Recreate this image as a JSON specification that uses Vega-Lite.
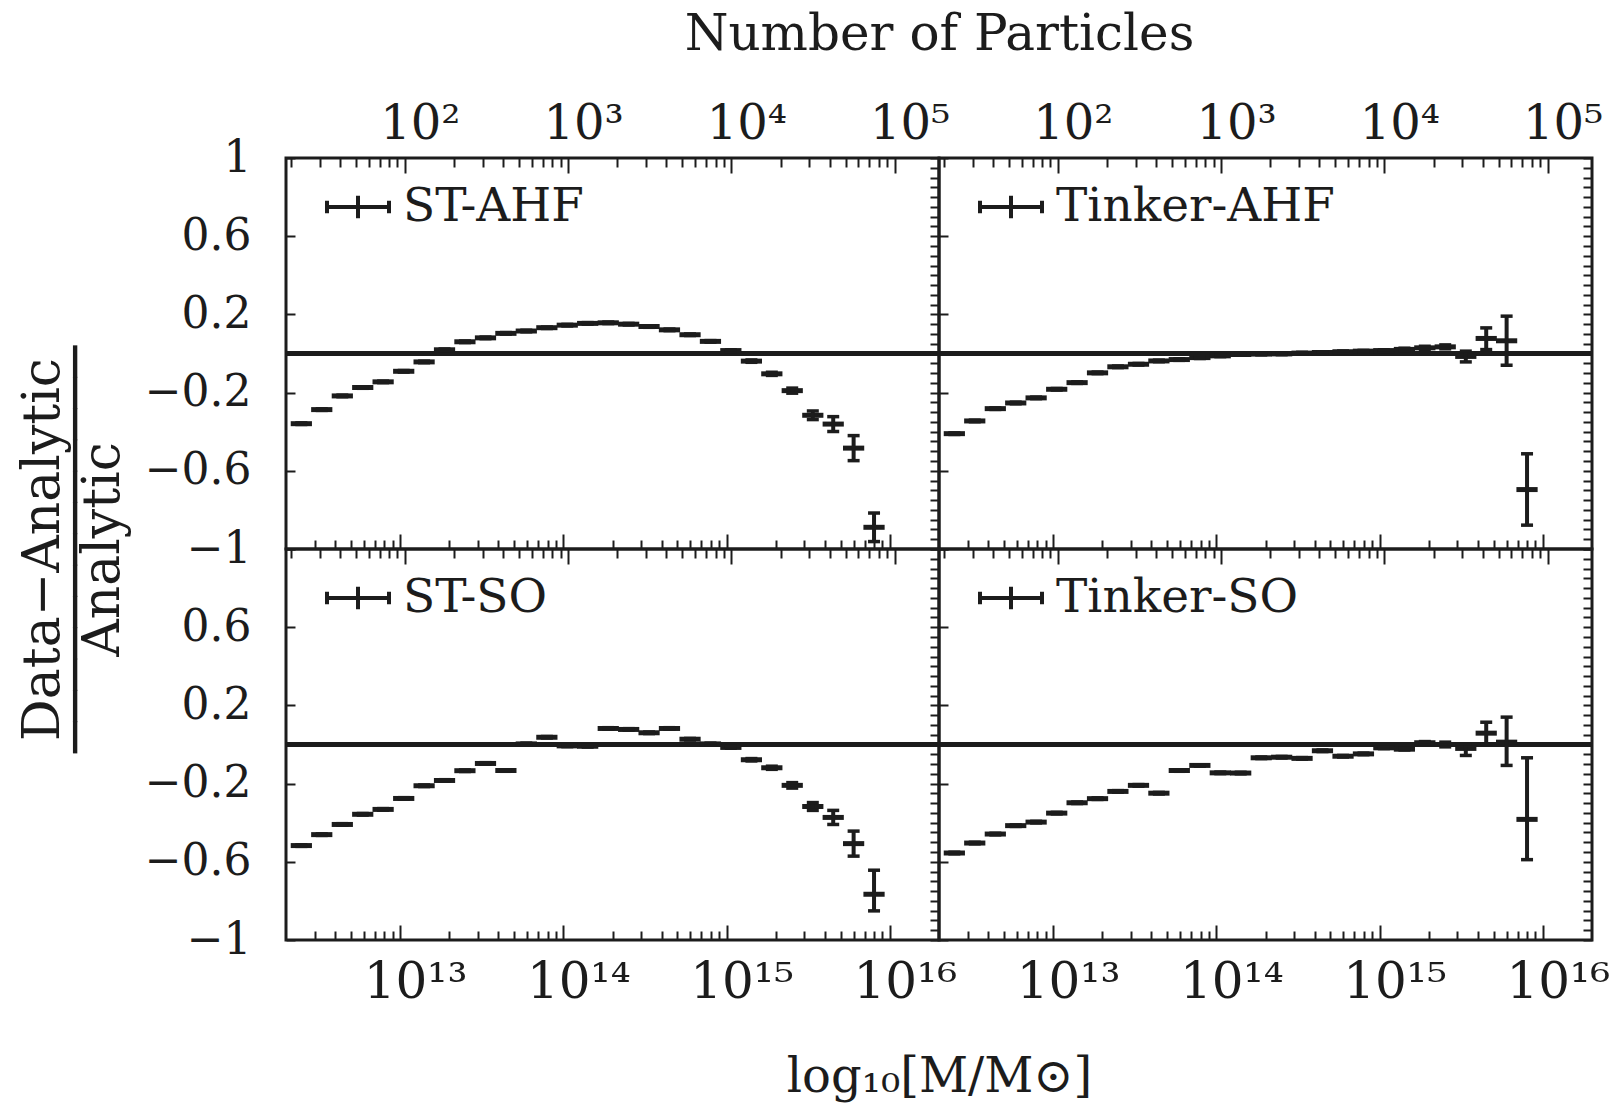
{
"$schema":"https://vega.github.io/schema/vega-lite/v6.json",
"background":"white",
"padding":{"left":14,"top":7,"right":10,"bottom":10},
"config":{
 "view":{"stroke":"#1c1c1c","strokeWidth":3},
 "font":"DejaVu Serif",
 "tick":{"opacity":1},
 "rule":{"opacity":1},
 "axis":{"domain":false,"grid":false,"tickColor":"#1c1c1c","tickWidth":2,"labelColor":"#1c1c1c","titleColor":"#1c1c1c","labelFont":"DejaVu Serif","titleFont":"DejaVu Serif","titleFontWeight":"normal","labelOverlap":false,"labelBound":false,"labelFlush":false},
 "legend":{"labelFont":"DejaVu Serif","labelColor":"#1c1c1c","labelLimit":500}
},
"datasets":{
"bins":[{"b":1,"m":2.483e12,"mlo":2.138e12,"mhi":2.884e12},{"b":2,"m":3.311e12,"mlo":2.851e12,"mhi":3.846e12},{"b":3,"m":4.426e12,"mlo":3.811e12,"mhi":5.14e12},{"b":4,"m":5.902e12,"mlo":5.082e12,"mhi":6.855e12},{"b":5,"m":7.87e12,"mlo":6.776e12,"mhi":9.141e12},{"b":6,"m":1.052e13,"mlo":9.057e12,"mhi":1.222e13},{"b":7,"m":1.403e13,"mlo":1.208e13,"mhi":1.629e13},{"b":8,"m":1.871e13,"mlo":1.611e13,"mhi":2.173e13},{"b":9,"m":2.495e13,"mlo":2.148e13,"mhi":2.897e13},{"b":10,"m":3.334e13,"mlo":2.871e13,"mhi":3.873e13},{"b":11,"m":4.446e13,"mlo":3.828e13,"mhi":5.164e13},{"b":12,"m":5.929e13,"mlo":5.105e13,"mhi":6.887e13},{"b":13,"m":7.925e13,"mlo":6.823e13,"mhi":9.204e13},{"b":14,"m":1.057e14,"mlo":9.099e13,"mhi":1.227e14},{"b":15,"m":1.409e14,"mlo":1.213e14,"mhi":1.637e14},{"b":16,"m":1.884e14,"mlo":1.622e14,"mhi":2.188e14},{"b":17,"m":2.512e14,"mlo":2.163e14,"mhi":2.917e14},{"b":18,"m":3.35e14,"mlo":2.884e14,"mhi":3.89e14},{"b":19,"m":4.467e14,"mlo":3.846e14,"mhi":5.188e14},{"b":20,"m":5.97e14,"mlo":5.14e14,"mhi":6.934e14},{"b":21,"m":7.962e14,"mlo":6.855e14,"mhi":9.247e14},{"b":22,"m":1.062e15,"mlo":9.141e14,"mhi":1.233e15},{"b":23,"m":1.419e15,"mlo":1.222e15,"mhi":1.648e15},{"b":24,"m":1.892e15,"mlo":1.629e15,"mhi":2.198e15},{"b":25,"m":2.523e15,"mlo":2.173e15,"mhi":2.931e15},{"b":26,"m":3.373e15,"mlo":2.904e15,"mhi":3.917e15},{"b":27,"m":4.498e15,"mlo":3.873e15,"mhi":5.224e15},{"b":28,"m":5.998e15,"mlo":5.164e15,"mhi":6.966e15},{"b":29,"m":8e15,"mlo":6.887e15,"mhi":9.29e15}],
"st_ahf":[{"b":1,"y":-0.359,"ylo":-0.363,"yhi":-0.355},{"b":2,"y":-0.287,"ylo":-0.291,"yhi":-0.283},{"b":3,"y":-0.217,"ylo":-0.221,"yhi":-0.213},{"b":4,"y":-0.174,"ylo":-0.178,"yhi":-0.17},{"b":5,"y":-0.145,"ylo":-0.149,"yhi":-0.141},{"b":6,"y":-0.091,"ylo":-0.095,"yhi":-0.087},{"b":7,"y":-0.043,"ylo":-0.047,"yhi":-0.039},{"b":8,"y":0.019,"ylo":0.015,"yhi":0.023},{"b":9,"y":0.06,"ylo":0.056,"yhi":0.064},{"b":10,"y":0.08,"ylo":0.076,"yhi":0.084},{"b":11,"y":0.103,"ylo":0.099,"yhi":0.107},{"b":12,"y":0.115,"ylo":0.111,"yhi":0.119},{"b":13,"y":0.132,"ylo":0.128,"yhi":0.136},{"b":14,"y":0.145,"ylo":0.141,"yhi":0.149},{"b":15,"y":0.154,"ylo":0.15,"yhi":0.158},{"b":16,"y":0.157,"ylo":0.153,"yhi":0.161},{"b":17,"y":0.15,"ylo":0.146,"yhi":0.154},{"b":18,"y":0.138,"ylo":0.134,"yhi":0.142},{"b":19,"y":0.121,"ylo":0.117,"yhi":0.125},{"b":20,"y":0.096,"ylo":0.092,"yhi":0.1},{"b":21,"y":0.062,"ylo":0.058,"yhi":0.066},{"b":22,"y":0.015,"ylo":0.011,"yhi":0.019},{"b":23,"y":-0.039,"ylo":-0.045,"yhi":-0.033},{"b":24,"y":-0.104,"ylo":-0.112,"yhi":-0.096},{"b":25,"y":-0.19,"ylo":-0.203,"yhi":-0.177},{"b":26,"y":-0.316,"ylo":-0.338,"yhi":-0.294},{"b":27,"y":-0.361,"ylo":-0.399,"yhi":-0.323},{"b":28,"y":-0.484,"ylo":-0.548,"yhi":-0.42},{"b":29,"y":-0.889,"ylo":-0.962,"yhi":-0.816}],
"tinker_ahf":[{"b":1,"y":-0.41,"ylo":-0.414,"yhi":-0.406},{"b":2,"y":-0.345,"ylo":-0.349,"yhi":-0.341},{"b":3,"y":-0.282,"ylo":-0.286,"yhi":-0.278},{"b":4,"y":-0.253,"ylo":-0.257,"yhi":-0.249},{"b":5,"y":-0.227,"ylo":-0.231,"yhi":-0.223},{"b":6,"y":-0.183,"ylo":-0.187,"yhi":-0.179},{"b":7,"y":-0.149,"ylo":-0.153,"yhi":-0.145},{"b":8,"y":-0.099,"ylo":-0.103,"yhi":-0.095},{"b":9,"y":-0.068,"ylo":-0.072,"yhi":-0.064},{"b":10,"y":-0.055,"ylo":-0.059,"yhi":-0.051},{"b":11,"y":-0.038,"ylo":-0.042,"yhi":-0.034},{"b":12,"y":-0.031,"ylo":-0.035,"yhi":-0.027},{"b":13,"y":-0.021,"ylo":-0.025,"yhi":-0.017},{"b":14,"y":-0.012,"ylo":-0.016,"yhi":-0.008},{"b":15,"y":-0.005,"ylo":-0.009,"yhi":-0.001},{"b":16,"y":-0.003,"ylo":-0.007,"yhi":0.001},{"b":17,"y":-0.002,"ylo":-0.006,"yhi":0.002},{"b":18,"y":0.002,"ylo":-0.002,"yhi":0.006},{"b":19,"y":0.005,"ylo":0.001,"yhi":0.009},{"b":20,"y":0.009,"ylo":0.005,"yhi":0.013},{"b":21,"y":0.012,"ylo":0.008,"yhi":0.016},{"b":22,"y":0.015,"ylo":0.011,"yhi":0.019},{"b":23,"y":0.021,"ylo":0.015,"yhi":0.027},{"b":24,"y":0.029,"ylo":0.021,"yhi":0.037},{"b":25,"y":0.034,"ylo":0.024,"yhi":0.044},{"b":26,"y":-0.015,"ylo":-0.043,"yhi":0.012},{"b":27,"y":0.077,"ylo":0.02,"yhi":0.131},{"b":28,"y":0.065,"ylo":-0.06,"yhi":0.191},{"b":29,"y":-0.696,"ylo":-0.878,"yhi":-0.513}],
"st_so":[{"b":1,"y":-0.517,"ylo":-0.521,"yhi":-0.513},{"b":2,"y":-0.461,"ylo":-0.465,"yhi":-0.457},{"b":3,"y":-0.409,"ylo":-0.413,"yhi":-0.405},{"b":4,"y":-0.357,"ylo":-0.361,"yhi":-0.353},{"b":5,"y":-0.332,"ylo":-0.336,"yhi":-0.328},{"b":6,"y":-0.276,"ylo":-0.28,"yhi":-0.272},{"b":7,"y":-0.211,"ylo":-0.215,"yhi":-0.207},{"b":8,"y":-0.184,"ylo":-0.188,"yhi":-0.18},{"b":9,"y":-0.134,"ylo":-0.138,"yhi":-0.13},{"b":10,"y":-0.097,"ylo":-0.101,"yhi":-0.093},{"b":11,"y":-0.133,"ylo":-0.137,"yhi":-0.129},{"b":12,"y":0.003,"ylo":-0.001,"yhi":0.007},{"b":13,"y":0.037,"ylo":0.033,"yhi":0.041},{"b":14,"y":-0.007,"ylo":-0.011,"yhi":-0.003},{"b":15,"y":-0.009,"ylo":-0.013,"yhi":-0.005},{"b":16,"y":0.082,"ylo":0.078,"yhi":0.086},{"b":17,"y":0.077,"ylo":0.073,"yhi":0.081},{"b":18,"y":0.06,"ylo":0.056,"yhi":0.064},{"b":19,"y":0.082,"ylo":0.078,"yhi":0.086},{"b":20,"y":0.027,"ylo":0.023,"yhi":0.031},{"b":21,"y":0.003,"ylo":-0.001,"yhi":0.007},{"b":22,"y":-0.015,"ylo":-0.019,"yhi":-0.011},{"b":23,"y":-0.078,"ylo":-0.084,"yhi":-0.072},{"b":24,"y":-0.119,"ylo":-0.127,"yhi":-0.111},{"b":25,"y":-0.209,"ylo":-0.223,"yhi":-0.195},{"b":26,"y":-0.317,"ylo":-0.337,"yhi":-0.297},{"b":27,"y":-0.373,"ylo":-0.409,"yhi":-0.337},{"b":28,"y":-0.507,"ylo":-0.571,"yhi":-0.443},{"b":29,"y":-0.766,"ylo":-0.851,"yhi":-0.643}],
"tinker_so":[{"b":1,"y":-0.555,"ylo":-0.559,"yhi":-0.551},{"b":2,"y":-0.504,"ylo":-0.508,"yhi":-0.5},{"b":3,"y":-0.458,"ylo":-0.462,"yhi":-0.454},{"b":4,"y":-0.415,"ylo":-0.419,"yhi":-0.411},{"b":5,"y":-0.397,"ylo":-0.401,"yhi":-0.393},{"b":6,"y":-0.351,"ylo":-0.355,"yhi":-0.347},{"b":7,"y":-0.298,"ylo":-0.302,"yhi":-0.294},{"b":8,"y":-0.277,"ylo":-0.281,"yhi":-0.273},{"b":9,"y":-0.24,"ylo":-0.244,"yhi":-0.236},{"b":10,"y":-0.209,"ylo":-0.213,"yhi":-0.205},{"b":11,"y":-0.249,"ylo":-0.253,"yhi":-0.245},{"b":12,"y":-0.133,"ylo":-0.137,"yhi":-0.129},{"b":13,"y":-0.107,"ylo":-0.111,"yhi":-0.103},{"b":14,"y":-0.145,"ylo":-0.149,"yhi":-0.141},{"b":15,"y":-0.146,"ylo":-0.15,"yhi":-0.142},{"b":16,"y":-0.068,"ylo":-0.072,"yhi":-0.064},{"b":17,"y":-0.065,"ylo":-0.069,"yhi":-0.061},{"b":18,"y":-0.071,"ylo":-0.075,"yhi":-0.067},{"b":19,"y":-0.032,"ylo":-0.036,"yhi":-0.028},{"b":20,"y":-0.06,"ylo":-0.064,"yhi":-0.056},{"b":21,"y":-0.048,"ylo":-0.052,"yhi":-0.044},{"b":22,"y":-0.017,"ylo":-0.021,"yhi":-0.013},{"b":23,"y":-0.024,"ylo":-0.028,"yhi":-0.02},{"b":24,"y":0.009,"ylo":0.003,"yhi":0.015},{"b":25,"y":0.0,"ylo":-0.012,"yhi":0.012},{"b":26,"y":-0.02,"ylo":-0.056,"yhi":0.003},{"b":27,"y":0.058,"ylo":0.003,"yhi":0.114},{"b":28,"y":0.012,"ylo":-0.107,"yhi":0.14},{"b":29,"y":-0.383,"ylo":-0.589,"yhi":-0.068}]
},
"concat":[
{
 "width":653,"height":391,
 "layer":[
  {
   "data":{"name":"st_ahf"},
   "transform":[{"lookup":"b","from":{"data":{"name":"bins"},"key":"b","fields":["m","mlo","mhi"]}}],
   "layer":[
    {"mark":{"type":"rule","color":"#1c1c1c","strokeWidth":3.5},"encoding":{"y":{"datum":0,"type":"quantitative","scale":{"domain":[-1,1],"nice":false,"zero":false}}}},
    {"mark":{"type":"rule","strokeWidth":5},"encoding":{
      "x":{"field":"mlo","type":"quantitative","scale":{"type":"log","domain":[2e12,2e16],"nice":false},"axis":{"orient":"bottom","values":[3e12,4e12,5e12,6e12,7e12,8e12,9e12,1e13,2e13,3e13,4e13,5e13,6e13,7e13,8e13,9e13,1e14,2e14,3e14,4e14,5e14,6e14,7e14,8e14,9e14,1e15,2e15,3e15,4e15,5e15,6e15,7e15,8e15,9e15,1e16],"labels":false,"title":null,"tickSize":{"condition":{"test":"datum.value==1e13||datum.value==1e14||datum.value==1e15||datum.value==1e16","value":-15},"value":-9}}},
      "x2":{"field":"mhi"},
      "y":{"field":"y","type":"quantitative","scale":{"domain":[-1,1],"nice":false,"zero":false},"axis":{"orient":"left","values":[-1,-0.95,-0.9,-0.85,-0.8,-0.75,-0.7,-0.65,-0.6,-0.55,-0.5,-0.45,-0.4,-0.35,-0.3,-0.25,-0.2,-0.15,-0.1,-0.05,0,0.05,0.1,0.15,0.2,0.25,0.3,0.35,0.4,0.45,0.5,0.55,0.6,0.65,0.7,0.75,0.8,0.85,0.9,0.95,1],"tickSize":-9,"labelFontSize":44,"labelPadding":44,"labelExpr":"indexof([1,0.6,0.2,-0.2,-0.6,-1],datum.value)>=0?format(datum.value,'~g'):''","title":["Data−Analytic","Analytic"],"titleFontSize":52,"titleLineHeight":60,"titleY":391,"titleAlign":"center","titlePadding":15}},
      "color":{"datum":"ST-AHF","type":"nominal","scale":{"range":["#1c1c1c"]},"legend":{"orient":"none","legendX":39,"legendY":16,"title":null,"padding":0,"labelFontSize":47,"labelOffset":12,"symbolType":"M-1,0L1,0M-1,-0.2L-1,0.2M1,-0.2L1,0.2M0,-0.36L0,0.36","symbolSize":3844,"symbolStrokeWidth":4,"symbolStrokeColor":"#1c1c1c","symbolFillColor":"transparent"}}}},
    {"mark":{"type":"rule","strokeWidth":4,"color":"#1c1c1c","opacity":1},"encoding":{"x":{"field":"m","type":"quantitative","scale":{"type":"log","domain":[2e12,2e16],"nice":false}},"y":{"field":"ylo","type":"quantitative","scale":{"domain":[-1,1],"nice":false,"zero":false}},"y2":{"field":"yhi"}}},
    {"mark":{"type":"tick","orient":"horizontal","size":12,"thickness":3.5,"color":"#1c1c1c","opacity":1},"encoding":{"x":{"field":"m","type":"quantitative","scale":{"type":"log","domain":[2e12,2e16],"nice":false}},"y":{"field":"ylo","type":"quantitative","scale":{"domain":[-1,1],"nice":false,"zero":false}}}},
    {"mark":{"type":"tick","orient":"horizontal","size":12,"thickness":3.5,"color":"#1c1c1c","opacity":1},"encoding":{"x":{"field":"m","type":"quantitative","scale":{"type":"log","domain":[2e12,2e16],"nice":false}},"y":{"field":"yhi","type":"quantitative","scale":{"domain":[-1,1],"nice":false,"zero":false}}}}
   ]
  },
  {
   "mark":{"type":"point","opacity":0},
   "encoding":{
    "x":{"datum":100,"type":"quantitative","scale":{"type":"log","domain":[18.69,186916],"nice":false},"axis":{"orient":"top","values":[20,30,40,50,60,70,80,90,100,200,300,400,500,600,700,800,900,1000,2000,3000,4000,5000,6000,7000,8000,9000,10000,20000,30000,40000,50000,60000,70000,80000,90000,100000],"tickSize":{"condition":{"test":"datum.value==100||datum.value==1000||datum.value==10000||datum.value==100000","value":-15},"value":-9},"labelExpr":"datum.value==100?'10²':datum.value==1000?'10³':datum.value==10000?'10⁴':datum.value==100000?'10⁵':''","labelFontSize":48,"labelPadding":25,"labelOffset":15,"title":"Number of Particles","titleFontSize":50,"titleX":653,"titleAlign":"center","titlePadding":35}},
    "y":{"datum":0,"type":"quantitative","scale":{"domain":[-1,1],"nice":false,"zero":false},"axis":{"orient":"right","values":[-1,-0.95,-0.9,-0.85,-0.8,-0.75,-0.7,-0.65,-0.6,-0.55,-0.5,-0.45,-0.4,-0.35,-0.3,-0.25,-0.2,-0.15,-0.1,-0.05,0,0.05,0.1,0.15,0.2,0.25,0.3,0.35,0.4,0.45,0.5,0.55,0.6,0.65,0.7,0.75,0.8,0.85,0.9,0.95,1],"tickSize":-9,"labels":false,"title":null}}
   }
  }
 ],
 "resolve":{"scale":{"x":"independent","y":"independent"},"axis":{"x":"independent","y":"independent"}}
},
{
 "width":653,"height":391,
 "layer":[
  {
   "data":{"name":"tinker_ahf"},
   "transform":[{"lookup":"b","from":{"data":{"name":"bins"},"key":"b","fields":["m","mlo","mhi"]}}],
   "layer":[
    {"mark":{"type":"rule","color":"#1c1c1c","strokeWidth":3.5},"encoding":{"y":{"datum":0,"type":"quantitative","scale":{"domain":[-1,1],"nice":false,"zero":false}}}},
    {"mark":{"type":"rule","strokeWidth":5},"encoding":{
      "x":{"field":"mlo","type":"quantitative","scale":{"type":"log","domain":[2e12,2e16],"nice":false},"axis":{"orient":"bottom","values":[3e12,4e12,5e12,6e12,7e12,8e12,9e12,1e13,2e13,3e13,4e13,5e13,6e13,7e13,8e13,9e13,1e14,2e14,3e14,4e14,5e14,6e14,7e14,8e14,9e14,1e15,2e15,3e15,4e15,5e15,6e15,7e15,8e15,9e15,1e16],"labels":false,"title":null,"tickSize":{"condition":{"test":"datum.value==1e13||datum.value==1e14||datum.value==1e15||datum.value==1e16","value":-15},"value":-9}}},
      "x2":{"field":"mhi"},
      "y":{"field":"y","type":"quantitative","scale":{"domain":[-1,1],"nice":false,"zero":false},"axis":{"orient":"left","values":[-1,-0.95,-0.9,-0.85,-0.8,-0.75,-0.7,-0.65,-0.6,-0.55,-0.5,-0.45,-0.4,-0.35,-0.3,-0.25,-0.2,-0.15,-0.1,-0.05,0,0.05,0.1,0.15,0.2,0.25,0.3,0.35,0.4,0.45,0.5,0.55,0.6,0.65,0.7,0.75,0.8,0.85,0.9,0.95,1],"tickSize":-9,"labels":false,"title":null}},
      "color":{"datum":"Tinker-AHF","type":"nominal","scale":{"range":["#1c1c1c"]},"legend":{"orient":"none","legendX":39,"legendY":16,"title":null,"padding":0,"labelFontSize":47,"labelOffset":12,"symbolType":"M-1,0L1,0M-1,-0.2L-1,0.2M1,-0.2L1,0.2M0,-0.36L0,0.36","symbolSize":3844,"symbolStrokeWidth":4,"symbolStrokeColor":"#1c1c1c","symbolFillColor":"transparent"}}}},
    {"mark":{"type":"rule","strokeWidth":4,"color":"#1c1c1c","opacity":1},"encoding":{"x":{"field":"m","type":"quantitative","scale":{"type":"log","domain":[2e12,2e16],"nice":false}},"y":{"field":"ylo","type":"quantitative","scale":{"domain":[-1,1],"nice":false,"zero":false}},"y2":{"field":"yhi"}}},
    {"mark":{"type":"tick","orient":"horizontal","size":12,"thickness":3.5,"color":"#1c1c1c","opacity":1},"encoding":{"x":{"field":"m","type":"quantitative","scale":{"type":"log","domain":[2e12,2e16],"nice":false}},"y":{"field":"ylo","type":"quantitative","scale":{"domain":[-1,1],"nice":false,"zero":false}}}},
    {"mark":{"type":"tick","orient":"horizontal","size":12,"thickness":3.5,"color":"#1c1c1c","opacity":1},"encoding":{"x":{"field":"m","type":"quantitative","scale":{"type":"log","domain":[2e12,2e16],"nice":false}},"y":{"field":"yhi","type":"quantitative","scale":{"domain":[-1,1],"nice":false,"zero":false}}}}
   ]
  },
  {
   "mark":{"type":"point","opacity":0},
   "encoding":{
    "x":{"datum":100,"type":"quantitative","scale":{"type":"log","domain":[18.69,186916],"nice":false},"axis":{"orient":"top","values":[20,30,40,50,60,70,80,90,100,200,300,400,500,600,700,800,900,1000,2000,3000,4000,5000,6000,7000,8000,9000,10000,20000,30000,40000,50000,60000,70000,80000,90000,100000],"tickSize":{"condition":{"test":"datum.value==100||datum.value==1000||datum.value==10000||datum.value==100000","value":-15},"value":-9},"labelExpr":"datum.value==100?'10²':datum.value==1000?'10³':datum.value==10000?'10⁴':datum.value==100000?'10⁵':''","labelFontSize":48,"labelPadding":25,"labelOffset":15,"title":null}},
    "y":{"datum":0,"type":"quantitative","scale":{"domain":[-1,1],"nice":false,"zero":false},"axis":{"orient":"right","values":[-1,-0.95,-0.9,-0.85,-0.8,-0.75,-0.7,-0.65,-0.6,-0.55,-0.5,-0.45,-0.4,-0.35,-0.3,-0.25,-0.2,-0.15,-0.1,-0.05,0,0.05,0.1,0.15,0.2,0.25,0.3,0.35,0.4,0.45,0.5,0.55,0.6,0.65,0.7,0.75,0.8,0.85,0.9,0.95,1],"tickSize":-9,"labels":false,"title":null}}
   }
  }
 ],
 "resolve":{"scale":{"x":"independent","y":"independent"},"axis":{"x":"independent","y":"independent"}}
},
{
 "width":653,"height":391,
 "layer":[
  {
   "data":{"name":"st_so"},
   "transform":[{"lookup":"b","from":{"data":{"name":"bins"},"key":"b","fields":["m","mlo","mhi"]}}],
   "layer":[
    {"mark":{"type":"rule","color":"#1c1c1c","strokeWidth":3.5},"encoding":{"y":{"datum":0,"type":"quantitative","scale":{"domain":[-1,1],"nice":false,"zero":false}}}},
    {"mark":{"type":"rule","strokeWidth":5},"encoding":{
      "x":{"field":"mlo","type":"quantitative","scale":{"type":"log","domain":[2e12,2e16],"nice":false},"axis":{"orient":"bottom","values":[3e12,4e12,5e12,6e12,7e12,8e12,9e12,1e13,2e13,3e13,4e13,5e13,6e13,7e13,8e13,9e13,1e14,2e14,3e14,4e14,5e14,6e14,7e14,8e14,9e14,1e15,2e15,3e15,4e15,5e15,6e15,7e15,8e15,9e15,1e16],"tickSize":{"condition":{"test":"datum.value==1e13||datum.value==1e14||datum.value==1e15||datum.value==1e16","value":-15},"value":-9},"labelExpr":"datum.value==1e13?'10¹³':datum.value==1e14?'10¹⁴':datum.value==1e15?'10¹⁵':datum.value==1e16?'10¹⁶':''","labelFontSize":50,"labelPadding":32,"labelOffset":15,"title":"log₁₀[M/M⊙]","titleFontSize":48,"titleX":653,"titleAlign":"center","titlePadding":40}},
      "x2":{"field":"mhi"},
      "y":{"field":"y","type":"quantitative","scale":{"domain":[-1,1],"nice":false,"zero":false},"axis":{"orient":"left","values":[-1,-0.95,-0.9,-0.85,-0.8,-0.75,-0.7,-0.65,-0.6,-0.55,-0.5,-0.45,-0.4,-0.35,-0.3,-0.25,-0.2,-0.15,-0.1,-0.05,0,0.05,0.1,0.15,0.2,0.25,0.3,0.35,0.4,0.45,0.5,0.55,0.6,0.65,0.7,0.75,0.8,0.85,0.9,0.95,1],"tickSize":-9,"labelFontSize":44,"labelPadding":44,"labelExpr":"indexof([0.6,0.2,-0.2,-0.6,-1],datum.value)>=0?format(datum.value,'~g'):''","title":"─────────────","titleFontSize":52,"titleY":0,"titleAlign":"center","titlePadding":41}},
      "color":{"datum":"ST-SO","type":"nominal","scale":{"range":["#1c1c1c"]},"legend":{"orient":"none","legendX":39,"legendY":16,"title":null,"padding":0,"labelFontSize":47,"labelOffset":12,"symbolType":"M-1,0L1,0M-1,-0.2L-1,0.2M1,-0.2L1,0.2M0,-0.36L0,0.36","symbolSize":3844,"symbolStrokeWidth":4,"symbolStrokeColor":"#1c1c1c","symbolFillColor":"transparent"}}}},
    {"mark":{"type":"rule","strokeWidth":4,"color":"#1c1c1c","opacity":1},"encoding":{"x":{"field":"m","type":"quantitative","scale":{"type":"log","domain":[2e12,2e16],"nice":false}},"y":{"field":"ylo","type":"quantitative","scale":{"domain":[-1,1],"nice":false,"zero":false}},"y2":{"field":"yhi"}}},
    {"mark":{"type":"tick","orient":"horizontal","size":12,"thickness":3.5,"color":"#1c1c1c","opacity":1},"encoding":{"x":{"field":"m","type":"quantitative","scale":{"type":"log","domain":[2e12,2e16],"nice":false}},"y":{"field":"ylo","type":"quantitative","scale":{"domain":[-1,1],"nice":false,"zero":false}}}},
    {"mark":{"type":"tick","orient":"horizontal","size":12,"thickness":3.5,"color":"#1c1c1c","opacity":1},"encoding":{"x":{"field":"m","type":"quantitative","scale":{"type":"log","domain":[2e12,2e16],"nice":false}},"y":{"field":"yhi","type":"quantitative","scale":{"domain":[-1,1],"nice":false,"zero":false}}}}
   ]
  },
  {
   "mark":{"type":"point","opacity":0},
   "encoding":{
    "x":{"datum":100,"type":"quantitative","scale":{"type":"log","domain":[18.69,186916],"nice":false},"axis":{"orient":"top","values":[20,30,40,50,60,70,80,90,100,200,300,400,500,600,700,800,900,1000,2000,3000,4000,5000,6000,7000,8000,9000,10000,20000,30000,40000,50000,60000,70000,80000,90000,100000],"tickSize":{"condition":{"test":"datum.value==100||datum.value==1000||datum.value==10000||datum.value==100000","value":-15},"value":-9},"labels":false,"title":null}},
    "y":{"datum":0,"type":"quantitative","scale":{"domain":[-1,1],"nice":false,"zero":false},"axis":{"orient":"right","values":[-1,-0.95,-0.9,-0.85,-0.8,-0.75,-0.7,-0.65,-0.6,-0.55,-0.5,-0.45,-0.4,-0.35,-0.3,-0.25,-0.2,-0.15,-0.1,-0.05,0,0.05,0.1,0.15,0.2,0.25,0.3,0.35,0.4,0.45,0.5,0.55,0.6,0.65,0.7,0.75,0.8,0.85,0.9,0.95,1],"tickSize":-9,"labels":false,"title":null}}
   }
  }
 ],
 "resolve":{"scale":{"x":"independent","y":"independent"},"axis":{"x":"independent","y":"independent"}}
},
{
 "width":653,"height":391,
 "layer":[
  {
   "data":{"name":"tinker_so"},
   "transform":[{"lookup":"b","from":{"data":{"name":"bins"},"key":"b","fields":["m","mlo","mhi"]}}],
   "layer":[
    {"mark":{"type":"rule","color":"#1c1c1c","strokeWidth":3.5},"encoding":{"y":{"datum":0,"type":"quantitative","scale":{"domain":[-1,1],"nice":false,"zero":false}}}},
    {"mark":{"type":"rule","strokeWidth":5},"encoding":{
      "x":{"field":"mlo","type":"quantitative","scale":{"type":"log","domain":[2e12,2e16],"nice":false},"axis":{"orient":"bottom","values":[3e12,4e12,5e12,6e12,7e12,8e12,9e12,1e13,2e13,3e13,4e13,5e13,6e13,7e13,8e13,9e13,1e14,2e14,3e14,4e14,5e14,6e14,7e14,8e14,9e14,1e15,2e15,3e15,4e15,5e15,6e15,7e15,8e15,9e15,1e16],"tickSize":{"condition":{"test":"datum.value==1e13||datum.value==1e14||datum.value==1e15||datum.value==1e16","value":-15},"value":-9},"labelExpr":"datum.value==1e13?'10¹³':datum.value==1e14?'10¹⁴':datum.value==1e15?'10¹⁵':datum.value==1e16?'10¹⁶':''","labelFontSize":50,"labelPadding":32,"labelOffset":15,"title":null}},
      "x2":{"field":"mhi"},
      "y":{"field":"y","type":"quantitative","scale":{"domain":[-1,1],"nice":false,"zero":false},"axis":{"orient":"left","values":[-1,-0.95,-0.9,-0.85,-0.8,-0.75,-0.7,-0.65,-0.6,-0.55,-0.5,-0.45,-0.4,-0.35,-0.3,-0.25,-0.2,-0.15,-0.1,-0.05,0,0.05,0.1,0.15,0.2,0.25,0.3,0.35,0.4,0.45,0.5,0.55,0.6,0.65,0.7,0.75,0.8,0.85,0.9,0.95,1],"tickSize":-9,"labels":false,"title":null}},
      "color":{"datum":"Tinker-SO","type":"nominal","scale":{"range":["#1c1c1c"]},"legend":{"orient":"none","legendX":39,"legendY":16,"title":null,"padding":0,"labelFontSize":47,"labelOffset":12,"symbolType":"M-1,0L1,0M-1,-0.2L-1,0.2M1,-0.2L1,0.2M0,-0.36L0,0.36","symbolSize":3844,"symbolStrokeWidth":4,"symbolStrokeColor":"#1c1c1c","symbolFillColor":"transparent"}}}},
    {"mark":{"type":"rule","strokeWidth":4,"color":"#1c1c1c","opacity":1},"encoding":{"x":{"field":"m","type":"quantitative","scale":{"type":"log","domain":[2e12,2e16],"nice":false}},"y":{"field":"ylo","type":"quantitative","scale":{"domain":[-1,1],"nice":false,"zero":false}},"y2":{"field":"yhi"}}},
    {"mark":{"type":"tick","orient":"horizontal","size":12,"thickness":3.5,"color":"#1c1c1c","opacity":1},"encoding":{"x":{"field":"m","type":"quantitative","scale":{"type":"log","domain":[2e12,2e16],"nice":false}},"y":{"field":"ylo","type":"quantitative","scale":{"domain":[-1,1],"nice":false,"zero":false}}}},
    {"mark":{"type":"tick","orient":"horizontal","size":12,"thickness":3.5,"color":"#1c1c1c","opacity":1},"encoding":{"x":{"field":"m","type":"quantitative","scale":{"type":"log","domain":[2e12,2e16],"nice":false}},"y":{"field":"yhi","type":"quantitative","scale":{"domain":[-1,1],"nice":false,"zero":false}}}}
   ]
  },
  {
   "mark":{"type":"point","opacity":0},
   "encoding":{
    "x":{"datum":100,"type":"quantitative","scale":{"type":"log","domain":[18.69,186916],"nice":false},"axis":{"orient":"top","values":[20,30,40,50,60,70,80,90,100,200,300,400,500,600,700,800,900,1000,2000,3000,4000,5000,6000,7000,8000,9000,10000,20000,30000,40000,50000,60000,70000,80000,90000,100000],"tickSize":{"condition":{"test":"datum.value==100||datum.value==1000||datum.value==10000||datum.value==100000","value":-15},"value":-9},"labels":false,"title":null}},
    "y":{"datum":0,"type":"quantitative","scale":{"domain":[-1,1],"nice":false,"zero":false},"axis":{"orient":"right","values":[-1,-0.95,-0.9,-0.85,-0.8,-0.75,-0.7,-0.65,-0.6,-0.55,-0.5,-0.45,-0.4,-0.35,-0.3,-0.25,-0.2,-0.15,-0.1,-0.05,0,0.05,0.1,0.15,0.2,0.25,0.3,0.35,0.4,0.45,0.5,0.55,0.6,0.65,0.7,0.75,0.8,0.85,0.9,0.95,1],"tickSize":-9,"labels":false,"title":null}}
   }
  }
 ],
 "resolve":{"scale":{"x":"independent","y":"independent"},"axis":{"x":"independent","y":"independent"}}
}
],
"columns":2,
"spacing":0,
"bounds":"flush",
"resolve":{"scale":{"x":"independent","y":"independent","color":"independent"},"axis":{"x":"independent","y":"independent"},"legend":{"color":"independent"}}
}
